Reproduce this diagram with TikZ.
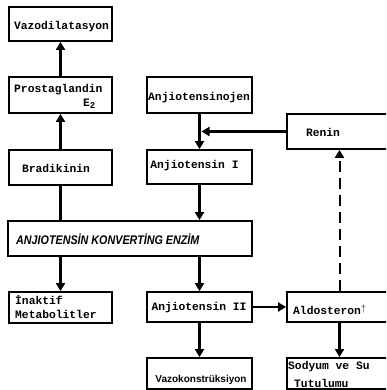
\documentclass[tikz,border=0pt]{standalone}
\usepackage{fontspec}
\setmonofont{Liberation Mono}
\setsansfont{Liberation Sans}
\usetikzlibrary{arrows.meta}
\begin{document}
\begin{tikzpicture}[x=1pt,y=1pt,
  box/.style={draw, line width=1.8pt, inner sep=0pt},
  lbl/.style={font=\ttfamily\bfseries\fontsize{11.3}{13}\selectfont, inner sep=0pt},
  arr/.style={line width=2.2pt, -{Triangle[length=8pt,width=9pt]}},
  plain/.style={line width=2.2pt},
  dasharr/.style={line width=2pt, dash pattern=on 11pt off 6pt, -{Triangle[length=8pt,width=9pt]}}
]
\useasboundingbox (0,0) rectangle (386,390);
\fill[white] (0,0) rectangle (386,390);
\clip (0,0) rectangle (386,390);

% boxes
\node[box, minimum width=103, minimum height=34] (vazo) at (60.5,366) {};
\node[box, minimum width=103, minimum height=36] (prost) at (60.5,295) {};
\node[box, minimum width=103, minimum height=35] (brad) at (60.5,222.5) {};
\node[box, minimum width=105, minimum height=36] (ajen) at (199.5,295) {};
\node[box, minimum width=105, minimum height=35] (renin) at (339.5,258.5) {};
\node[box, minimum width=105, minimum height=34] (a1) at (199.5,223) {};
\node[box, minimum width=244, minimum height=35] (ace) at (130,151.5) {};
\node[box, minimum width=103, minimum height=31] (inak) at (60.5,82.5) {};
\node[box, minimum width=105, minimum height=30] (a2) at (199.5,83) {};
\node[box, minimum width=105, minimum height=30] (aldo) at (339.5,83) {};
\node[box, minimum width=105, minimum height=31] (vk) at (199.5,16.5) {};
\node[box, minimum width=105, minimum height=31] (sod) at (339.5,16.5) {};

% labels
\node[lbl] (tvazo) at (61.5,363) {Vazodilatasyon};
\node[lbl, anchor=west] (tprost) at (14,300) {Prostaglandin};
\node[lbl, anchor=west] (te2) at (83,286.5) {E\raisebox{-2pt}{\fontsize{9}{9}\selectfont 2}};
\node[lbl] (tbrad) at (56,222) {Bradikinin};
\node[lbl, anchor=west] (tajen) at (148,292) {Anjiotensinojen};
\node[lbl] (trenin) at (323,258) {Renin};
\node[lbl] (ta1) at (194.5,224) {Anjiotensin I};
\node[font=\sffamily\bfseries\itshape\fontsize{12.5}{14}\selectfont, inner sep=0pt, anchor=west] (tace) at (16,151) {\scalebox{0.86}[1]{ANJIOTENSİN KONVERTİNG ENZİM}};
\node[lbl, anchor=west] (tin1) at (15,90) {İnaktif};
\node[lbl, anchor=west] (tin2) at (15,76) {Metabolitler};
\node[lbl] (ta2) at (199,82) {Anjiotensin II};
\node[lbl, anchor=west] (taldo) at (293,80) {Aldosteron\raisebox{3pt}{\fontsize{9}{9}\selectfont$\uparrow$}};
\node[font=\sffamily\bfseries\fontsize{10}{12}\selectfont, inner sep=0pt] (tvk) at (201,10) {Vazokonstrüksiyon};
\node[lbl, anchor=west] (tsod1) at (288,23) {Sodyum ve Su};
\node[lbl, anchor=west] (tsod2) at (294,7) {Tutulumu};

% connectors
\draw[arr] (prost.north) -- (vazo.south);
\draw[arr] (brad.north) -- (prost.south);
\draw[plain] (ace.north -| brad.south) -- (brad.south);
\draw[arr] (ace.south -| inak.north) -- (inak.north);
\draw[arr] (ajen.south) -- (a1.north);
\coordinate (rj) at (renin.west -| ajen.south);
\draw[arr, shorten >=2pt] (renin.west) -- (rj);
\draw[arr] (a1.south) -- (a1.south |- ace.north);
\draw[arr] (a2.north |- ace.south) -- (a2.north);
\draw[arr] (a2.east) -- (aldo.west);
\draw[arr] (a2.south) -- (vk.north);
\draw[arr] (aldo.south) -- (sod.north);
\draw[dasharr] (aldo.north) -- (renin.south);
\end{tikzpicture}
\end{document}
